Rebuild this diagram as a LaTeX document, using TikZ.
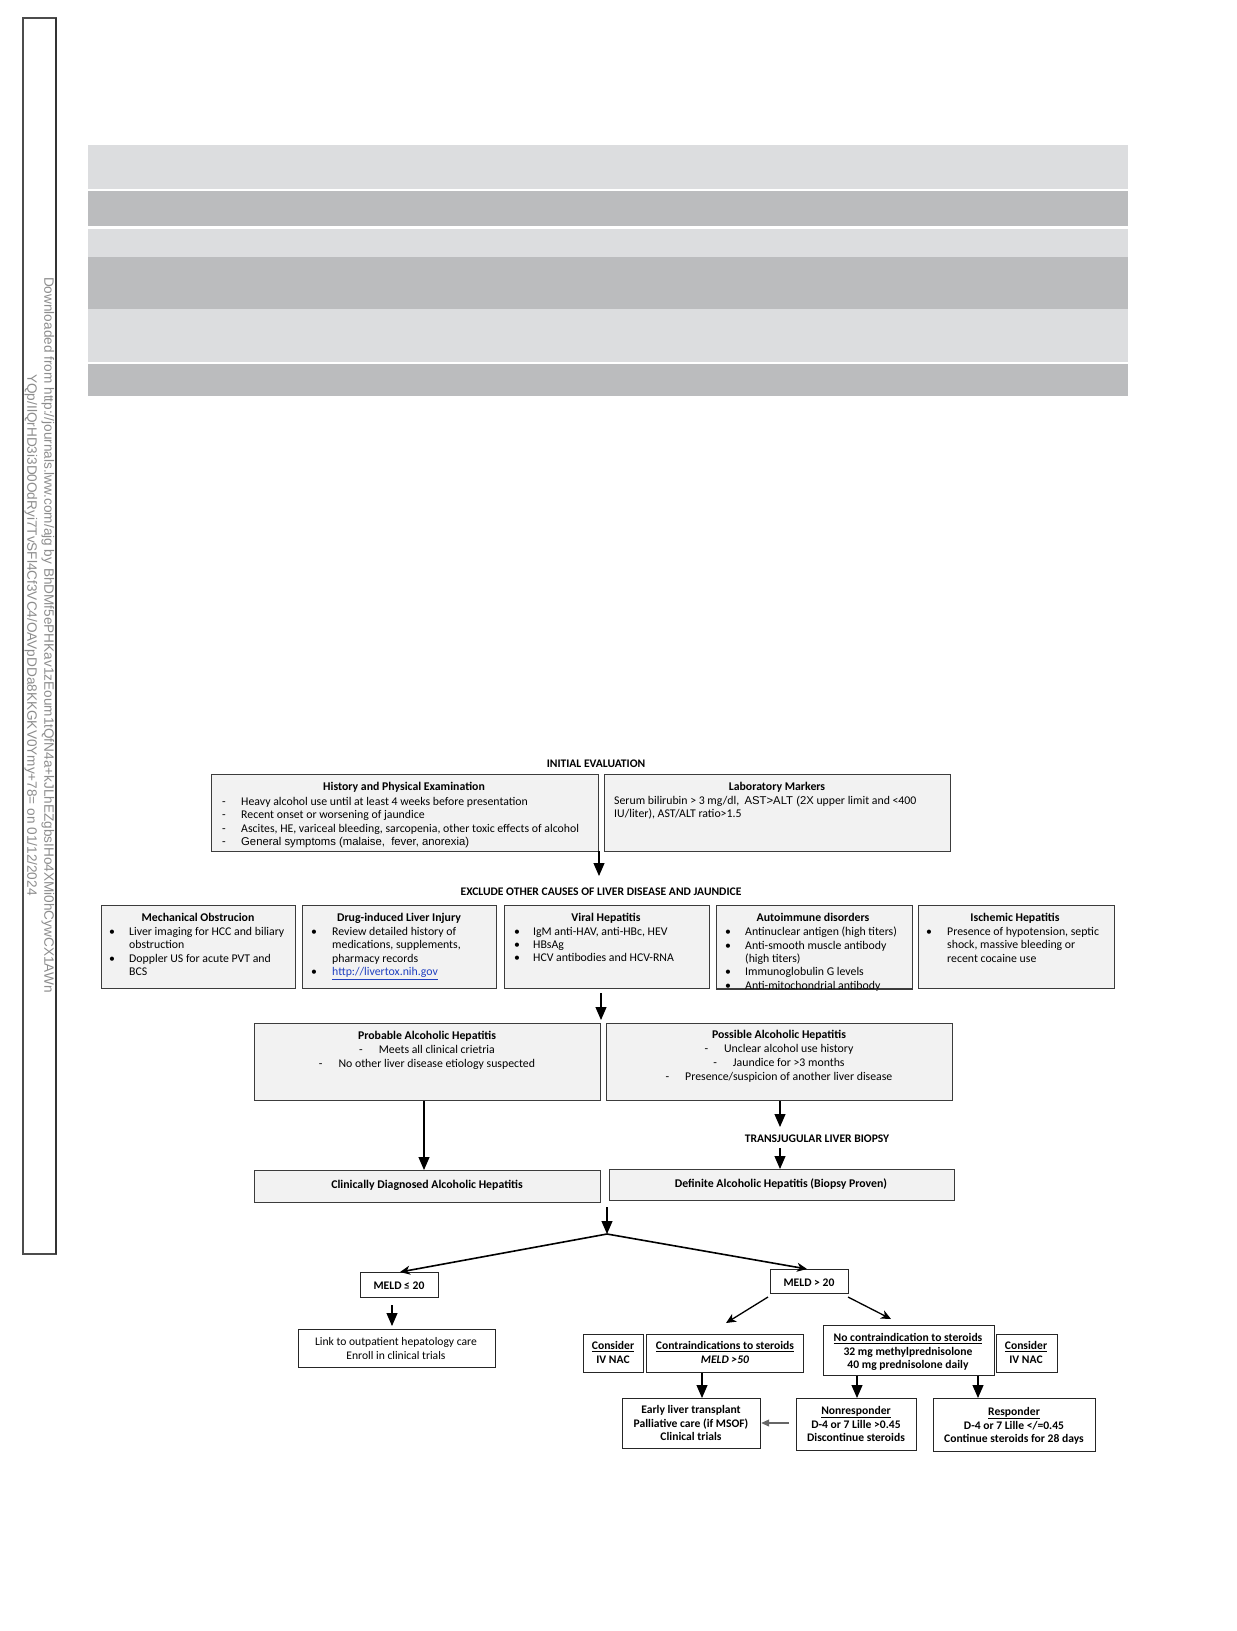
\documentclass[tikz,border=0pt]{standalone}
\usepackage{fontspec}
\setmainfont{Carlito}
\newfontfamily\arialf{Liberation Sans}
\usetikzlibrary{arrows.meta,calc}
\definecolor{bandlight}{HTML}{DCDDDF}
\definecolor{banddark}{HTML}{BBBCBE}
\definecolor{boxfill}{HTML}{F2F2F2}
\definecolor{boxline}{HTML}{3C3C3C}
\definecolor{wmgray}{HTML}{8C8C8C}
\definecolor{linkblue}{HTML}{2040C0}
\tikzset{
  fbox/.style={draw=boxline, fill=boxfill, line width=1.2pt, inner sep=0pt, anchor=north west},
  wbox/.style={draw=black!85, fill=white, line width=1.2pt, inner sep=0pt, anchor=north west},
  ttl/.style={inner sep=0pt, anchor=north, font=\fontsize{11.8}{13.5}\selectfont\bfseries},
  body/.style={inner sep=0pt, anchor=north west, align=left, font=\fontsize{11.8}{13.3}\selectfont},
  cbody/.style={inner sep=0pt, anchor=north, align=center, font=\fontsize{11.8}{13.8}\selectfont},
  head/.style={inner sep=0pt, font=\fontsize{11.6}{12}\selectfont\bfseries},
  btxt/.style={inner sep=0pt, anchor=north, align=center, font=\fontsize{11.6}{13.7}\selectfont\bfseries},
  bigarrow/.style={line width=1.1pt, -{Triangle[width=11pt,length=13pt]}},
  slimarrow/.style={line width=1.6pt, -{Stealth[width=9pt,length=10pt,inset=3pt]}},
  wmark/.style={rotate=-90, text=wmgray, inner sep=0pt, font=\arialf\fontsize{13.6}{14}\selectfont},
}
\newcommand\dsh{\makebox[19pt][l]{-}}
\newcommand\bul[1]{\makebox[#1][l]{\textbullet}}
\begin{document}
\begin{tikzpicture}[x=1pt,y=-1pt]
\useasboundingbox (0,0) rectangle (1237,1631);
% gray bands
\fill[bandlight] (88,145) rectangle (1128,189);
\fill[banddark]  (88,191) rectangle (1128,226);
\fill[bandlight] (88,229) rectangle (1128,257);
\fill[banddark]  (88,257) rectangle (1128,309);
\fill[bandlight] (88,309) rectangle (1128,362);
\fill[banddark]  (88,364) rectangle (1128,396);
% side frame with watermark
\draw[line width=1.2pt, black!70] (23,18) rectangle (56,1254);
\draw[line width=2pt, black!80] (56,18) -- (56,1254);
\node[wmark] (wm1) at (48,635) {Downloaded from http://journals.lww.com/ajg by BhDMf5ePHKav1zEoum1tQfN4a+kJLhEZgbsIHo4XMi0hCywCX1AWn};
\node[wmark] (wm2) at (31,635) {YQp/IlQrHD3i3D0OdRyi7TvSFl4Cf3VC4/OAVpDDa8KKGKV0Ymy+78= on 01/12/2024};

% ---- initial evaluation
\node[head] (init) at (596,764) {INITIAL EVALUATION};
\node[fbox, minimum width=387pt, minimum height=77pt] (hist) at (211,774) {};
\node[fbox, minimum width=346pt, minimum height=77pt] (lab) at (604,774) {};
\node[ttl] (histT) at (404,782) {History and Physical Examination};
\node[body] (histB) at (222,797) {\dsh Heavy alcohol use until at least 4 weeks before presentation\\ \dsh Recent onset or worsening of jaundice\\ \dsh Ascites, HE, variceal bleeding, sarcopenia, other toxic effects of alcohol\\ \dsh {\arialf\fontsize{11.3}{13.3}\selectfont General symptoms (malaise,\ \ fever, anorexia)}};
\node[ttl] (labT) at (777,782) {Laboratory Markers};
\node[body] (labB) at (614,796) {Serum bilirubin > 3 mg/dl,\ \ {\arialf\fontsize{11.3}{13.3}\selectfont AST>ALT (2X} upper limit and <400\\ IU/liter), AST/ALT ratio>1.5};

\coordinate (a1s) at (599,851);
\coordinate (a1e) at (599,876);
\draw[bigarrow] (a1s) -- (a1e);

% ---- exclude other causes
\node[head] (excl) at (601,892) {EXCLUDE OTHER CAUSES OF LIVER DISEASE AND JAUNDICE};
\node[fbox, minimum width=194pt, minimum height=83pt] (mech) at (101,905) {};
\node[fbox, minimum width=194pt, minimum height=83pt] (dili) at (302,905) {};
\node[fbox, minimum width=205pt, minimum height=83pt] (viral) at (504,905) {};
\node[fbox, minimum width=196pt, minimum height=83pt] (auto) at (716,905) {};
\node[fbox, minimum width=196pt, minimum height=83pt] (isch) at (918,905) {};
\node[ttl] (mechT) at (198,913) {Mechanical Obstrucion};
\node[ttl] (diliT) at (399,913) {Drug-induced Liver Injury};
\node[ttl] (viralT) at (606,913) {Viral Hepatitis};
\node[ttl] (autoT) at (813,913) {Autoimmune disorders};
\node[ttl] (ischT) at (1015,913) {Ischemic Hepatitis};
\node[body] (mechB) at (109,927) {\bul{20pt}Liver imaging for HCC and biliary\\ \hspace*{20pt}obstruction\\ \bul{20pt}Doppler US for acute PVT and\\ \hspace*{20pt}BCS};
\node[body] (diliB) at (311,927) {\bul{21pt}Review detailed history of\\ \hspace*{21pt}medications, supplements,\\ \hspace*{21pt}pharmacy records\\ \bul{21pt}{\color{linkblue}\underline{http://livertox.nih.gov}}};
\node[body] (viralB) at (514,927) {\bul{19pt}IgM anti-HAV, anti-HBc, HEV\\ \bul{19pt}HBsAg\\ \bul{19pt}HCV antibodies and HCV-RNA};
\node[body] (autoB) at (725,927) {\bul{20pt}Antinuclear antigen (high titers)\\ \bul{20pt}Anti-smooth muscle antibody\\ \hspace*{20pt}(high titers)\\ \bul{20pt}Immunoglobulin G levels\\ \bul{20pt}Anti-mitochondrial antibody};
\node[body] (ischB) at (926,927) {\bul{21pt}Presence of hypotension, septic\\ \hspace*{21pt}shock, massive bleeding or\\ \hspace*{21pt}recent cocaine use};
\draw[draw=boxline, line width=1.2pt] (auto.south west) -- (auto.south east);

\coordinate (a2s) at (601,993);
\draw[bigarrow] (a2s) -- (601,1020);

% ---- probable / possible
\node[fbox, minimum width=346pt, minimum height=77pt] (prob) at (254,1023) {};
\node[fbox, minimum width=346pt, minimum height=77pt] (poss) at (606,1023) {};
\node[ttl] (probT) at (427,1031) {Probable Alcoholic Hepatitis};
\node[cbody] (probB) at (427,1045) {-\hspace{16pt}Meets all clinical crietria\\ -\hspace{16pt}No other liver disease etiology suspected};
\node[ttl] (possT) at (779,1030) {Possible Alcoholic Hepatitis};
\node[cbody] (possB) at (779,1044) {-\hspace{16pt}Unclear alcohol use history\\ -\hspace{16pt}Jaundice for >3 months\\ -\hspace{16pt}Presence/suspicion of another liver disease};

\node[fbox, minimum width=346pt, minimum height=32pt] (clin) at (254,1170) {};
\node[ttl, anchor=center] (clinT) at (427,1185) {Clinically Diagnosed Alcoholic Hepatitis};
\node[fbox, minimum width=345pt, minimum height=31pt] (defin) at (609,1169) {};
\node[ttl, anchor=center] (definT) at (781,1184) {Definite Alcoholic Hepatitis (Biopsy Proven)};
\node[head] (tjlb) at (817,1139) {TRANSJUGULAR LIVER BIOPSY};

\draw[bigarrow] (prob.south -| 424,0) -- (clin.north -| 424,0);
\draw[bigarrow] (poss.south -| 780,0) -- (780,1127);
\draw[bigarrow] (780,1148) -- (defin.north -| 780,0);

% ---- MELD branch
\coordinate (a6s) at (607,1207);
\coordinate (split) at (607,1234);
\draw[bigarrow] (a6s) -- (split);
\node[wbox, minimum width=78pt, minimum height=25pt] (mlow) at (360,1272) {};
\node[btxt, anchor=center] (mlowT) at (399,1286) {MELD ≤ 20};
\node[wbox, minimum width=78pt, minimum height=24pt] (mhigh) at (770,1269) {};
\node[btxt, anchor=center] (mhighT) at (809,1283) {MELD > 20};
\draw[slimarrow] (split) -- (400,1272);
\draw[slimarrow] (split) -- (807,1269);

\draw[bigarrow] (392,1305) -- (392,1326);
\node[wbox, minimum width=197pt, minimum height=38pt] (link) at (298,1329) {};
\node[cbody, font=\fontsize{11.6}{13.8}\selectfont] (linkT) at (396,1337) {Link to outpatient hepatology care\\ Enroll in clinical trials};

\draw[slimarrow, line width=1.3pt] (768,1297) -- (726,1323);
\draw[slimarrow, line width=1.3pt] (848,1297) -- (891,1319);

\node[wbox, minimum width=60pt, minimum height=38pt] (consL) at (583,1334) {};
\node[btxt] (consLT) at (613,1341) {\underline{Consider}\\ IV NAC};
\node[wbox, minimum width=157pt, minimum height=38pt] (contra) at (646,1334) {};
\node[btxt] (contraT) at (725,1341) {\underline{Contraindications to steroids}\\ \textit{MELD >50}};
\node[wbox, minimum width=171pt, minimum height=50pt] (nocon) at (823,1325) {};
\node[btxt] (noconT) at (908,1333) {\underline{No contraindication to steroids}\\ 32 mg methylprednisolone\\ 40 mg prednisolone daily};
\node[wbox, minimum width=61pt, minimum height=38pt] (consR) at (996,1334) {};
\node[btxt] (consRT) at (1026,1341) {\underline{Consider}\\ IV NAC};

\node[wbox, minimum width=138pt, minimum height=50pt] (early) at (622,1398) {};
\node[btxt] (earlyT) at (691,1405) {Early liver transplant\\ Palliative care (if MSOF)\\ Clinical trials};
\node[wbox, minimum width=120pt, minimum height=52pt] (nonr) at (796,1398) {};
\node[btxt] (nonrT) at (856,1406) {\underline{Nonresponder}\\ D-4 or 7 Lille >0.45\\ Discontinue steroids};
\node[wbox, minimum width=162pt, minimum height=53pt] (resp) at (933,1398) {};
\node[btxt] (respT) at (1014,1407) {\underline{Responder}\\ D-4 or 7 Lille </=0.45\\ Continue steroids for 28 days};

\draw[bigarrow] (contra.south -| 702,0) -- (early.north -| 702,0);
\draw[bigarrow] (nocon.south -| 857,0) -- (nonr.north -| 857,0);
\draw[bigarrow] (nocon.south -| 978,0) -- (resp.north -| 978,0);
\draw[line width=1.2pt, black!60, -{Triangle[width=7pt,length=8pt]}] (789,1423) -- (early.east |- 0,1423);
\end{tikzpicture}
\end{document}
